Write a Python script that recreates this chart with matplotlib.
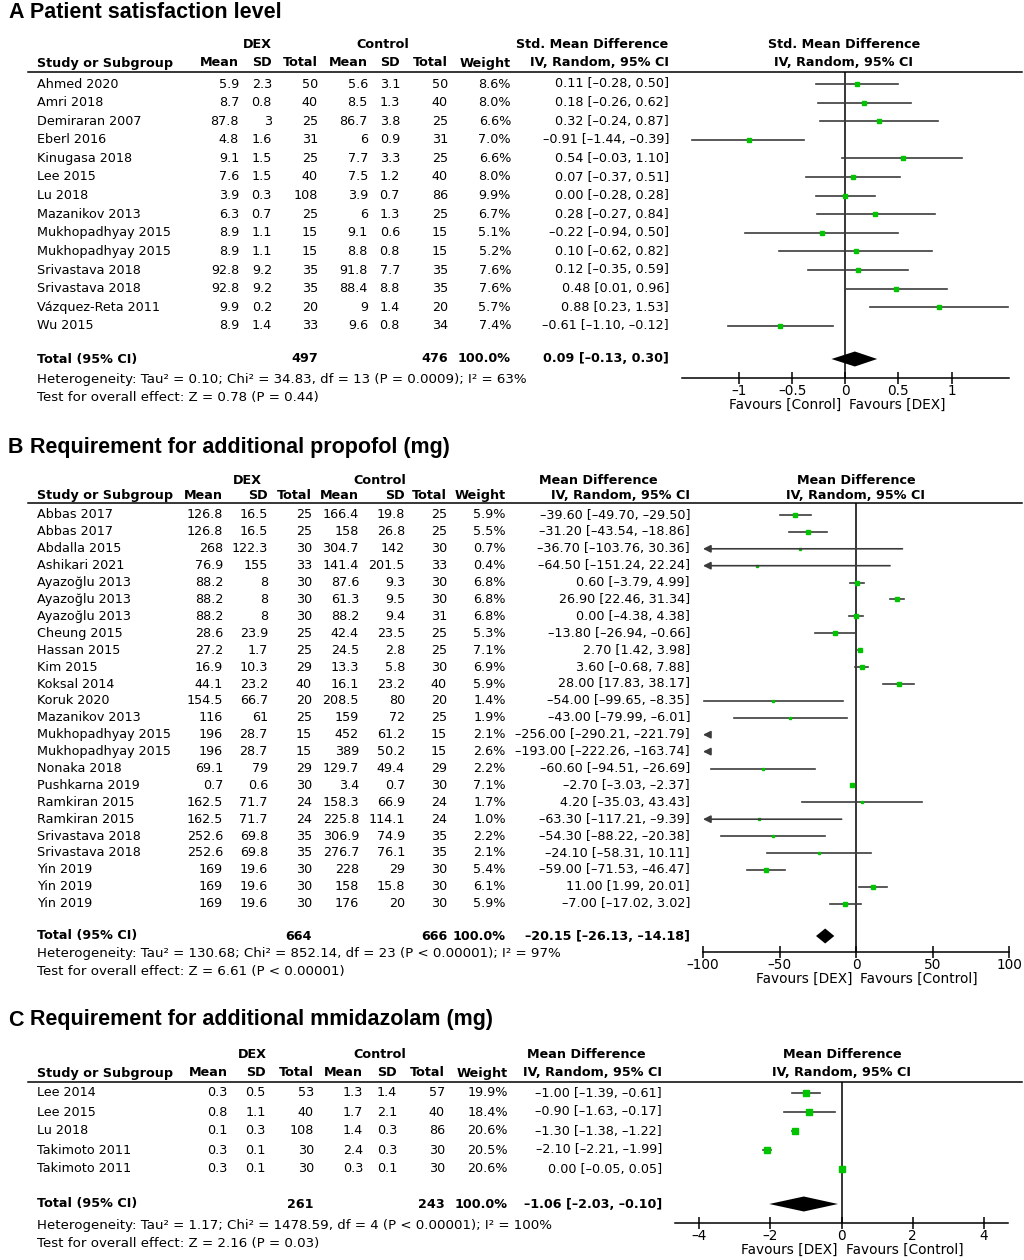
import matplotlib
matplotlib.use('Agg')
import matplotlib.pyplot as plt
from matplotlib.lines import Line2D

plt.rcParams['font.family'] = ['DejaVu Sans']

# ---------------- panel A: patient satisfaction ----------------
studies_a = ['Ahmed 2020', 'Amri 2018', 'Demiraran 2007', 'Eberl 2016', 'Kinugasa 2018', 'Lee 2015',
             'Lu 2018', 'Mazanikov 2013', 'Mukhopadhyay 2015', 'Mukhopadhyay 2015', 'Srivastava 2018',
             'Srivastava 2018', 'Vázquez-Reta 2011', 'Wu 2015']
dex_mean_a = [5.9, 8.7, 87.8, 4.8, 9.1, 7.6, 3.9, 6.3, 8.9, 8.9, 92.8, 92.8, 9.9, 8.9]
dex_sd_a = [2.3, 0.8, 3, 1.6, 1.5, 1.5, 0.3, 0.7, 1.1, 1.1, 9.2, 9.2, 0.2, 1.4]
dex_n_a = [50, 40, 25, 31, 25, 40, 108, 25, 15, 15, 35, 35, 20, 33]
ctl_mean_a = [5.6, 8.5, 86.7, 6, 7.7, 7.5, 3.9, 6, 9.1, 8.8, 91.8, 88.4, 9, 9.6]
ctl_sd_a = [3.1, 1.3, 3.8, 0.9, 3.3, 1.2, 0.7, 1.3, 0.6, 0.8, 7.7, 8.8, 1.4, 0.8]
ctl_n_a = [50, 40, 25, 31, 25, 40, 86, 25, 15, 15, 35, 35, 20, 34]
weight_a = [8.6, 8.0, 6.6, 7.0, 6.6, 8.0, 9.9, 6.7, 5.1, 5.2, 7.6, 7.6, 5.7, 7.4]
est_a = [0.11, 0.18, 0.32, -0.91, 0.54, 0.07, 0.00, 0.28, -0.22, 0.10, 0.12, 0.48, 0.88, -0.61]
lo_a = [-0.28, -0.26, -0.24, -1.44, -0.03, -0.37, -0.28, -0.27, -0.94, -0.62, -0.35, 0.01, 0.23, -1.10]
hi_a = [0.50, 0.62, 0.87, -0.39, 1.10, 0.51, 0.28, 0.84, 0.50, 0.82, 0.59, 0.96, 1.53, -0.12]
total_a = [0.09, -0.13, 0.30]
total_n_a = [497, 476]
het_a = 'Heterogeneity: Tau² = 0.10; Chi² = 34.83, df = 13 (P = 0.0009); I² = 63%'
test_a = 'Test for overall effect: Z = 0.78 (P = 0.44)'

# ---------------- panel B: additional propofol ----------------
studies_b = ['Abbas 2017', 'Abbas 2017', 'Abdalla 2015', 'Ashikari 2021', 'Ayazoğlu 2013', 'Ayazoğlu 2013',
             'Ayazoğlu 2013', 'Cheung 2015', 'Hassan 2015', 'Kim 2015', 'Koksal 2014', 'Koruk 2020',
             'Mazanikov 2013', 'Mukhopadhyay 2015', 'Mukhopadhyay 2015', 'Nonaka 2018', 'Pushkarna 2019',
             'Ramkiran 2015', 'Ramkiran 2015', 'Srivastava 2018', 'Srivastava 2018', 'Yin 2019', 'Yin 2019',
             'Yin 2019']
dex_mean_b = [126.8, 126.8, 268, 76.9, 88.2, 88.2, 88.2, 28.6, 27.2, 16.9, 44.1, 154.5, 116, 196, 196,
              69.1, 0.7, 162.5, 162.5, 252.6, 252.6, 169, 169, 169]
dex_sd_b = [16.5, 16.5, 122.3, 155, 8, 8, 8, 23.9, 1.7, 10.3, 23.2, 66.7, 61, 28.7, 28.7, 79, 0.6, 71.7,
            71.7, 69.8, 69.8, 19.6, 19.6, 19.6]
dex_n_b = [25, 25, 30, 33, 30, 30, 30, 25, 25, 29, 40, 20, 25, 15, 15, 29, 30, 24, 24, 35, 35, 30, 30, 30]
ctl_mean_b = [166.4, 158, 304.7, 141.4, 87.6, 61.3, 88.2, 42.4, 24.5, 13.3, 16.1, 208.5, 159, 452, 389,
              129.7, 3.4, 158.3, 225.8, 306.9, 276.7, 228, 158, 176]
ctl_sd_b = [19.8, 26.8, 142, 201.5, 9.3, 9.5, 9.4, 23.5, 2.8, 5.8, 23.2, 80, 72, 61.2, 50.2, 49.4, 0.7,
            66.9, 114.1, 74.9, 76.1, 29, 15.8, 20]
ctl_n_b = [25, 25, 30, 33, 30, 30, 31, 25, 25, 30, 40, 20, 25, 15, 15, 29, 30, 24, 24, 35, 35, 30, 30, 30]
weight_b = [5.9, 5.5, 0.7, 0.4, 6.8, 6.8, 6.8, 5.3, 7.1, 6.9, 5.9, 1.4, 1.9, 2.1, 2.6, 2.2, 7.1, 1.7, 1.0,
            2.2, 2.1, 5.4, 6.1, 5.9]
est_b = [-39.60, -31.20, -36.70, -64.50, 0.60, 26.90, 0.00, -13.80, 2.70, 3.60, 28.00, -54.00, -43.00,
         -256.00, -193.00, -60.60, -2.70, 4.20, -63.30, -54.30, -24.10, -59.00, 11.00, -7.00]
lo_b = [-49.70, -43.54, -103.76, -151.24, -3.79, 22.46, -4.38, -26.94, 1.42, -0.68, 17.83, -99.65, -79.99,
        -290.21, -222.26, -94.51, -3.03, -35.03, -117.21, -88.22, -58.31, -71.53, 1.99, -17.02]
hi_b = [-29.50, -18.86, 30.36, 22.24, 4.99, 31.34, 4.38, -0.66, 3.98, 7.88, 38.17, -8.35, -6.01,
        -221.79, -163.74, -26.69, -2.37, 43.43, -9.39, -20.38, 10.11, -46.47, 20.01, 3.02]
total_b = [-20.15, -26.13, -14.18]
total_n_b = [664, 666]
het_b = 'Heterogeneity: Tau² = 130.68; Chi² = 852.14, df = 23 (P < 0.00001); I² = 97%'
test_b = 'Test for overall effect: Z = 6.61 (P < 0.00001)'

# ---------------- panel C: additional midazolam ----------------
studies_c = ['Lee 2014', 'Lee 2015', 'Lu 2018', 'Takimoto 2011', 'Takimoto 2011']
dex_mean_c = [0.3, 0.8, 0.1, 0.3, 0.3]
dex_sd_c = [0.5, 1.1, 0.3, 0.1, 0.1]
dex_n_c = [53, 40, 108, 30, 30]
ctl_mean_c = [1.3, 1.7, 1.4, 2.4, 0.3]
ctl_sd_c = [1.4, 2.1, 0.3, 0.3, 0.1]
ctl_n_c = [57, 40, 86, 30, 30]
weight_c = [19.9, 18.4, 20.6, 20.5, 20.6]
est_c = [-1.00, -0.90, -1.30, -2.10, 0.00]
lo_c = [-1.39, -1.63, -1.38, -2.21, -0.05]
hi_c = [-0.61, -0.17, -1.22, -1.99, 0.05]
total_c = [-1.06, -2.03, -0.10]
total_n_c = [261, 243]
het_c = 'Heterogeneity: Tau² = 1.17; Chi² = 1478.59, df = 4 (P < 0.00001); I² = 100%'
test_c = 'Test for overall effect: Z = 2.16 (P = 0.03)'

W, H = 1024, 1260
fig = plt.figure(figsize=(W / 100, H / 100), dpi=100)
FS = 9.2
HS = 9.6
GREEN = '#00c400'
GREY = '#3c3c3c'


def T(x, y, s, ha='left', **kw):
    # text placed in pixel coordinates, y measured from the top
    fig.text(x / W, 1 - y / H, s, ha=ha, va='center', **kw)


def num(v):
    return f'{v:g}'.replace('-', '–')


def ci(e, l, h):
    return f'{e:.2f} [{l:.2f}, {h:.2f}]'.replace('-', '–')


def panel(letter, title, y, cols, data, forest):
    mean1, sd1, n1, mean2, sd2, n2, wcol, cicol, dexc, ctlc, cihead = cols
    studies, dm, ds, dn, cm, cs, cn, wt, est, lo, hi, tot, totn, het, test, label1 = data
    xmin, xmax, left, right, ticks, fav_l, fav_r, headc = forest
    ty, h1, h2, hline, row0, step, ytot, yhet, ytest, yaxis, yfav = y

    T(8, ty, letter, fontsize=15.5, fontweight='bold', family='Liberation Sans')
    T(30, ty, title, fontsize=15.5, fontweight='bold', family='Liberation Sans')

    # header
    T(dexc, h1, 'DEX', ha='center', fontsize=FS, fontweight='bold')
    T(ctlc, h1, 'Control', ha='center', fontsize=FS, fontweight='bold')
    T(cihead, h1, label1, ha='center', fontsize=FS, fontweight='bold')
    T(headc, h1, label1, ha='center', fontsize=FS, fontweight='bold')
    T(37, h2, 'Study or Subgroup', fontsize=FS, fontweight='bold')
    for x, s in zip([mean1, sd1, n1, mean2, sd2, n2, wcol, cicol],
                    ['Mean', 'SD', 'Total', 'Mean', 'SD', 'Total', 'Weight', 'IV, Random, 95% CI']):
        T(x, h2, s, ha='right', fontsize=FS, fontweight='bold')
    T(headc, h2, 'IV, Random, 95% CI', ha='center', fontsize=FS, fontweight='bold')
    fig.add_artist(Line2D([28 / W, 1022 / W], [1 - hline / H] * 2, color='k', lw=1.1))

    # table rows
    for i, s in enumerate(studies):
        yy = row0 + i * step
        T(37, yy, s, fontsize=FS)
        for x, v in zip([mean1, sd1, n1, mean2, sd2, n2], [dm[i], ds[i], dn[i], cm[i], cs[i], cn[i]]):
            T(x, yy, num(v), ha='right', fontsize=FS)
        T(wcol, yy, f'{wt[i]:.1f}%', ha='right', fontsize=FS)
        T(cicol, yy, ci(est[i], lo[i], hi[i]), ha='right', fontsize=FS)

    T(37, ytot, 'Total (95% CI)', fontsize=FS, fontweight='bold')
    T(n1, ytot, str(totn[0]), ha='right', fontsize=FS, fontweight='bold')
    T(n2, ytot, str(totn[1]), ha='right', fontsize=FS, fontweight='bold')
    T(wcol, ytot, '100.0%', ha='right', fontsize=FS, fontweight='bold')
    T(cicol, ytot, ci(*tot), ha='right', fontsize=FS, fontweight='bold')
    T(37, yhet, het, fontsize=HS)
    T(37, ytest, test, fontsize=HS)

    # forest plot
    ax = fig.add_axes([left / W, 1 - yaxis / H, (right - left) / W, (yaxis - hline) / H])
    ax.set_xlim(xmin, xmax)
    ax.set_ylim(yaxis, hline)
    ax.patch.set_alpha(0)
    for sp in ['top', 'left', 'right']:
        ax.spines[sp].set_visible(False)
    ax.spines['bottom'].set_linewidth(1.1)
    ax.set_yticks([])
    ax.set_xticks(ticks)
    ax.set_xticklabels([num(t) for t in ticks])
    ax.tick_params(axis='x', direction='inout', length=9, width=1.1, labelsize=FS + 0.6, pad=0)
    ax.axvline(0, color='k', lw=1.1)
    head = (xmax - xmin) * 0.02
    for i in range(len(studies)):
        yy = row0 + i * step
        if lo[i] < xmin:
            start = min(hi[i], xmax) if hi[i] > xmin else xmin + head
            ax.annotate('', xy=(xmin, yy), xytext=(start, yy),
                        arrowprops=dict(arrowstyle='-|>', color=GREY, lw=1.2, mutation_scale=11,
                                        shrinkA=0, shrinkB=0), annotation_clip=False)
        else:
            ax.plot([lo[i], min(hi[i], xmax)], [yy, yy], color=GREY, lw=1.2)
        if xmin <= est[i] <= xmax:
            ax.plot(est[i], yy, 's', color=GREEN, ms=max(1.8, 1.1 * wt[i] ** 0.5), mec=GREEN)
    e, l, h = tot
    ax.fill([l, e, h, e], [ytot, ytot - 7.5, ytot, ytot + 7.5], color='k', lw=0)
    zero_px = left + (0 - xmin) / (xmax - xmin) * (right - left)
    T(zero_px - 4, yfav, fav_l, ha='right', fontsize=FS + 0.6)
    T(zero_px + 4, yfav, fav_r, ha='left', fontsize=FS + 0.6)


panel('A', 'Patient satisfaction level',
      [13, 45, 63, 72, 84, 18.6, 359, 380, 398, 378, 405],
      [239, 272, 318, 368, 400, 448, 511, 669, 257, 383, 592],
      [studies_a, dex_mean_a, dex_sd_a, dex_n_a, ctl_mean_a, ctl_sd_a, ctl_n_a, weight_a,
       est_a, lo_a, hi_a, total_a, total_n_a, het_a, test_a, 'Std. Mean Difference'],
      [-1.536, 1.54, 682, 1009, [-1, -0.5, 0, 0.5, 1], 'Favours [Conrol]', 'Favours [DEX]', 844])

panel('B', 'Requirement for additional propofol (mg)',
      [447, 480, 496, 503, 515, 16.9, 936, 954, 971, 952, 979],
      [223, 268, 312, 359, 405, 447, 506, 690, 247, 380, 598],
      [studies_b, dex_mean_b, dex_sd_b, dex_n_b, ctl_mean_b, ctl_sd_b, ctl_n_b, weight_b,
       est_b, lo_b, hi_b, total_b, total_n_b, het_b, test_b, 'Mean Difference'],
      [-100, 100, 703, 1009, [-100, -50, 0, 50, 100], 'Favours [DEX]', 'Favours [Control]', 856])

panel('C', 'Requirement for additional mmidazolam (mg)',
      [1020, 1054, 1073, 1082, 1093, 19, 1204, 1226, 1243, 1223, 1250],
      [228, 266, 314, 363, 397, 445, 508, 662, 252, 380, 586],
      [studies_c, dex_mean_c, dex_sd_c, dex_n_c, ctl_mean_c, ctl_sd_c, ctl_n_c, weight_c,
       est_c, lo_c, hi_c, total_c, total_n_c, het_c, test_c, 'Mean Difference'],
      [-4.68, 4.68, 675, 1008, [-4, -2, 0, 2, 4], 'Favours [DEX]', 'Favours [Control]', 842])

fig.savefig('out.png', dpi=100)
